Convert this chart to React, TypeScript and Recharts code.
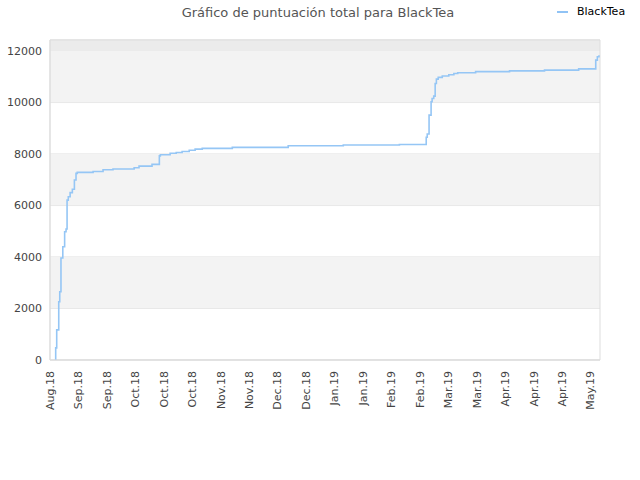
import React from "react"
import {
	LineChart,
	Line,
	XAxis,
	YAxis,
	CartesianGrid,
	ReferenceArea,
} from "recharts"

// days since 2018-08-20, and total score at that day
const days = [
	2.8, 2.8, 3.3, 4.3, 4.8, 5.4, 6.3, 7.2, 7.9, 8.4, 9.0, 9.9, 11.0, 12.0, 12.8,
	13.4, 21.2, 26.1, 31.0, 41.4, 43.8, 50.2, 53.8, 54.3, 59.1, 62.1, 65.0, 68.5,
	71.4, 74.9, 89.7, 117.2, 144.3, 171.9, 185.1, 185.6, 186.5, 187.5, 188.0,
	188.8, 189.5, 190.1, 191.0, 193.0, 196.2, 198.7, 200.6, 209.4, 226.1, 243.3,
	260.1, 268.5, 269.3, 270.1,
]
const scores = [
	0, 470, 1170, 2260, 2650, 3960, 4400, 4980, 5090, 6210, 6340, 6500, 6630,
	6990, 7250, 7290, 7320, 7390, 7420, 7470, 7530, 7600, 7930, 7970, 8030, 8060,
	8100, 8150, 8190, 8220, 8260, 8320, 8350, 8370, 8650, 8780, 9510, 10030,
	10160, 10250, 10740, 10910, 10980, 11030, 11080, 11130, 11160, 11200, 11230,
	11260, 11310, 11650, 11780, 11840,
]

const xTickDays = [
	0, 14, 28, 42, 56, 70, 84, 98, 112, 126, 140, 154, 168, 182, 196, 210, 224,
	238, 252, 266,
]
const xTickLabels = [
	"Aug.18", "Sep.18", "Sep.18", "Oct.18", "Oct.18", "Oct.18", "Nov.18",
	"Nov.18", "Dec.18", "Dec.18", "Jan.19", "Jan.19", "Feb.19", "Feb.19",
	"Mar.19", "Mar.19", "Apr.19", "Apr.19", "Apr.19", "May.19",
]
const yTicks = [0, 2000, 4000, 6000, 8000, 10000, 12000]
const shadedBands = [
	[2000, 4000],
	[6000, 8000],
	[10000, 12000],
]

const data = days.map((d, i) => ({ day: d, score: scores[i] }))

const FONT = "'DejaVu Sans', sans-serif"
const X_MAX = 270.6
const Y_MAX = 12430

const RotatedTick = (props: any) => {
	const { x, payload } = props
	const idx = xTickDays.indexOf(payload.value)
	const ty = 371
	return (
		<text
			x={x}
			y={ty}
			dy="0.35em"
			transform={`rotate(-90 ${x} ${ty})`}
			textAnchor="end"
			fontSize={11}
			fontFamily={FONT}
			fill="#444"
		>
			{xTickLabels[idx]}
		</text>
	)
}

export default function App() {
	return (
		<div
			style={{
				position: "absolute",
				left: 0,
				top: 0,
				width: 640,
				height: 480,
				background: "#fff",
			}}
		>
			<div
				style={{
					position: "absolute",
					left: 0,
					width: 636,
					top: 5,
					textAlign: "center",
					fontFamily: FONT,
					fontSize: 13,
					color: "#555",
				}}
			>
				Gráfico de puntuación total para BlackTea
			</div>
			<div
				style={{
					position: "absolute",
					left: 557,
					top: 5,
					fontFamily: FONT,
					fontSize: 11,
					color: "#000",
					display: "flex",
					alignItems: "center",
				}}
			>
				<span
					style={{
						display: "inline-block",
						width: 11,
						height: 2,
						background: "#90c3f5",
						marginRight: 9,
					}}
				/>
				BlackTea
			</div>
			<LineChart
				width={640}
				height={480}
				data={data}
				margin={{ top: 40, right: 40, bottom: 0, left: 10 }}
			>
				{shadedBands.map(([a, b]) => (
					<ReferenceArea
						key={a}
						x1={0}
						x2={X_MAX}
						y1={a}
						y2={b}
						fill="#f3f3f3"
						fillOpacity={1}
						stroke="none"
						ifOverflow="hidden"
					/>
				))}
				<ReferenceArea
					x1={0}
					x2={X_MAX}
					y1={12000}
					y2={Y_MAX}
					fill="#ebebeb"
					fillOpacity={1}
					stroke="none"
				/>
				<CartesianGrid vertical={false} stroke="#dddddd" />
				<ReferenceArea
					x1={0}
					x2={X_MAX}
					y1={0}
					y2={Y_MAX}
					fill="none"
					stroke="#dddddd"
				/>
				<XAxis
					dataKey="day"
					type="number"
					domain={[0, X_MAX]}
					ticks={xTickDays}
					interval={0}
					tick={<RotatedTick />}
					tickLine={false}
					axisLine={{ stroke: "#dddddd" }}
					height={120}
				/>
				<YAxis
					type="number"
					domain={[0, Y_MAX]}
					ticks={yTicks}
					interval={0}
					width={40}
					tickLine={false}
					axisLine={{ stroke: "#dddddd" }}
					tick={{ fontSize: 11, fontFamily: FONT, fill: "#444" }}
					tickMargin={2}
				/>
				<Line
					type="stepAfter"
					dataKey="score"
					stroke="#95c6f5"
					strokeWidth={1.6}
					dot={false}
					isAnimationActive={false}
				/>
			</LineChart>
		</div>
	)
}
